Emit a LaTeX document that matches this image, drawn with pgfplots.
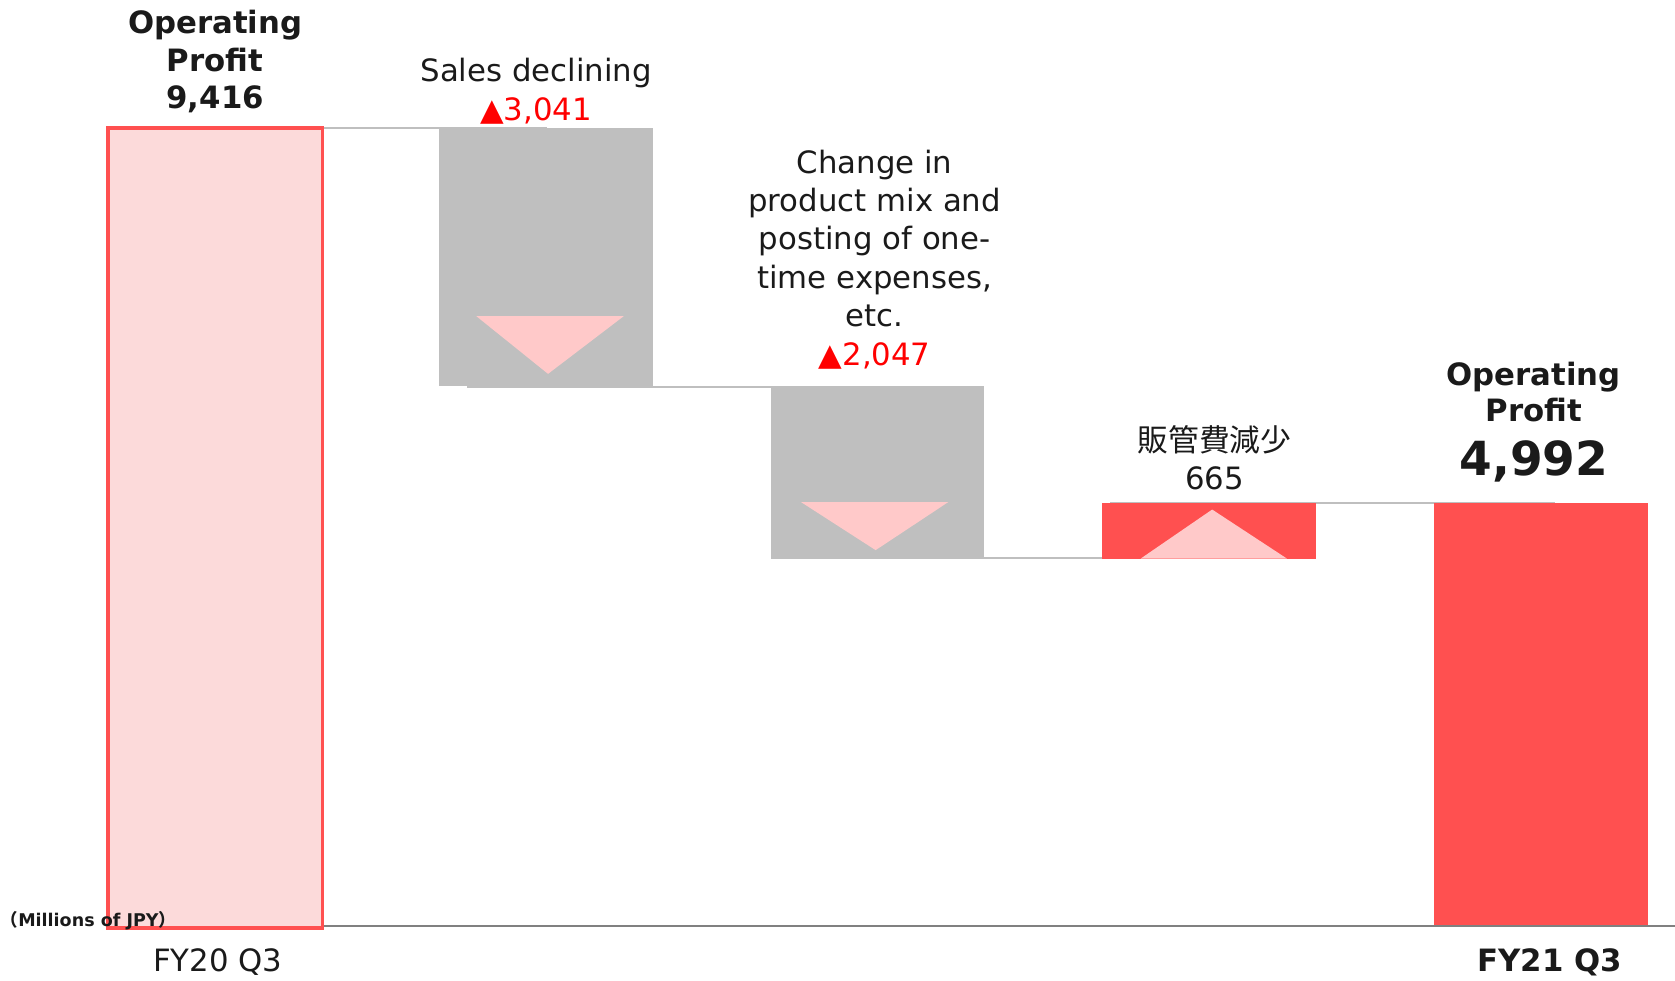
\documentclass[border=0pt]{standalone}
\usepackage{fontspec}
\setmainfont{DejaVu Sans}
\newfontfamily\cjk{Noto Sans CJK JP}
\usepackage{pgfplots}
\pgfplotsset{compat=1.18}
\definecolor{barpink}{HTML}{FCDADA}
\definecolor{barred}{HTML}{FF5050}
\definecolor{bargrey}{HTML}{BFBFBF}
\definecolor{tri}{HTML}{FFC9C9}
\definecolor{ink}{HTML}{1A1A1A}
\definecolor{neg}{HTML}{FF0000}
\definecolor{baseln}{HTML}{808080}

% one text line, anchored at its baseline
\newcommand\lbl[4][]{\node[anchor=base, inner sep=0pt, text=ink, #1] at (axis cs:#2,#3) {#4};}

\begin{document}
\fontsize{14.4}{17.5}\selectfont
\begin{tikzpicture}
\begin{axis}[
  scale only axis, width=784pt, height=459pt,
  xmin=-0.649, xmax=4.403, ymin=-643, ymax=10929,
  hide axis, clip=false,
]
% connectors
\addplot[bargrey, line width=1pt] coordinates {(0,9416) (1,9416)};
\addplot[bargrey, line width=1pt] coordinates {(0.76,6360) (2,6360)};
\addplot[bargrey, line width=1pt] coordinates {(2,4340) (2.95,4340)};
\addplot[bargrey, line width=1pt] coordinates {(2.7,4992) (4.04,4992)};

% bars
\addplot[fill=bargrey, draw=none] coordinates {(0.675,6375) (1.319,6375) (1.319,9416) (0.675,9416)} -- cycle;
\addplot[fill=bargrey, draw=none] coordinates {(1.677,4328) (2.318,4328) (2.318,6375) (1.677,6375)} -- cycle;
\addplot[fill=barred, draw=none] coordinates {(2.675,4328) (3.320,4328) (3.320,4993) (2.675,4993)} -- cycle;
\addplot[fill=barred, draw=none] coordinates {(3.677,0) (4.321,0) (4.321,4992) (3.677,4992)} -- cycle;

% arrows inside the change bars
\addplot[fill=tri, draw=none] coordinates {(0.788,7197) (1.232,7197) (1.004,6517)} -- cycle;
\addplot[fill=tri, draw=none] coordinates {(1.767,5004) (2.211,5004) (1.992,4437)} -- cycle;
\addplot[fill=tri, draw=none] coordinates {(2.791,4336) (3.233,4336) (3.007,4916)} -- cycle;

% baseline
\addplot[baseln, line width=1pt] coordinates {(-0.323,0) (4.403,0)};

% starting bar
\addplot[fill=barpink, draw=barred, line width=1.6pt] coordinates {(-0.323,-20) (0.323,-20) (0.323,9416) (-0.323,9416)} -- cycle;

% labels
\lbl[font=\bfseries]{0}{10538}{Operating}
\lbl[font=\bfseries]{0}{10084}{Profit}
\lbl[font=\bfseries]{0}{9643}{9,416}

\lbl{0.968}{9964}{Sales declining}
\lbl[text=neg]{0.968}{9512}{▲3,041}

\lbl{1.989}{8887}{Change in}
\lbl{1.989}{8433}{product mix and}
\lbl{1.989}{7979}{posting of one-}
\lbl{1.989}{7525}{time expenses,}
\lbl{1.989}{7071}{etc.}
\lbl[text=neg]{1.989}{6618}{▲2,047}

\lbl{3.014}{5597}{\cjk 販管費減少}
\lbl{3.014}{5155}{665}

\lbl[font=\bfseries]{3.977}{6384}{Operating}
\lbl[font=\bfseries]{3.977}{5952}{Profit}
\lbl[font=\fontsize{22}{26}\selectfont\bfseries]{3.977}{5323}{4,992}

\lbl{0.008}{-538}{FY20 Q3}
\lbl[font=\bfseries]{4.025}{-538}{FY21 Q3}

\node[anchor=base west, inner sep=0pt, text=ink, font=\fontsize{8.2}{10}\selectfont\bfseries]
  at (axis cs:-0.648,-6) {{\cjk （}Millions of JPY{\cjk ）}};

\coordinate (ll) at (rel axis cs:0,0);
\coordinate (ur) at (rel axis cs:1,1);
\end{axis}
\pgfresetboundingbox
\useasboundingbox (ll) rectangle (ur);
\end{tikzpicture}
\end{document}
